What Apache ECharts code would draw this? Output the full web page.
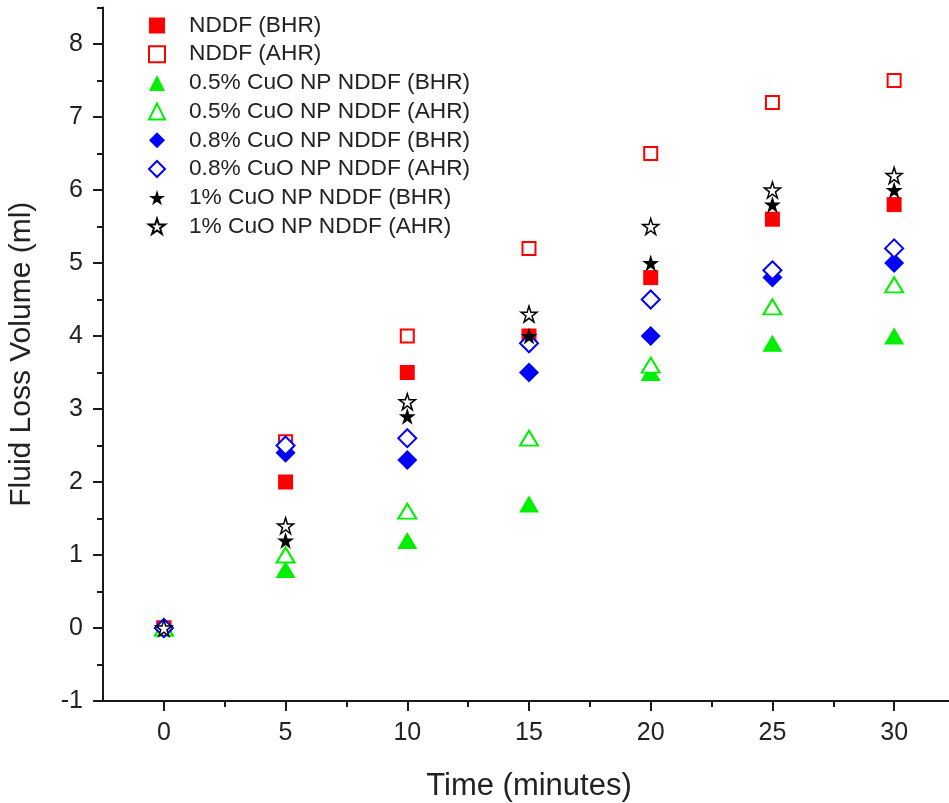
<!DOCTYPE html>
<html>
<head>
<meta charset="utf-8">
<script src="https://cdn.jsdelivr.net/npm/echarts@6/dist/echarts.min.js"></script>
<style>html,body{margin:0;padding:0;background:#fff}#c{width:949px;height:803px}</style>
</head>
<body>
<div id="c"></div>
<script>
const times = [0, 5, 10, 15, 20, 25, 30];
const nddfBHR   = [0, 2.0, 3.5, 4.0, 4.8, 5.6, 5.8];
const nddfAHR   = [0, 2.55, 4.0, 5.2, 6.5, 7.2, 7.5];
const cuo05BHR  = [0, 0.8, 1.2, 1.7, 3.5, 3.9, 4.0];
const cuo05AHR  = [0, 1.0, 1.6, 2.6, 3.6, 4.4, 4.7];
const cuo08BHR  = [0, 2.4, 2.3, 3.5, 4.0, 4.8, 5.0];
const cuo08AHR  = [0, 2.5, 2.6, 3.9, 4.5, 4.9, 5.2];
const cuo1BHR   = [0, 1.2, 2.9, 4.0, 5.0, 5.8, 6.0];
const cuo1AHR   = [0, 1.4, 3.1, 4.3, 5.5, 6.0, 6.2];
const seriesNames = [
  'NDDF (BHR)', 'NDDF (AHR)',
  '0.5% CuO NP NDDF (BHR)', '0.5% CuO NP NDDF (AHR)',
  '0.8% CuO NP NDDF (BHR)', '0.8% CuO NP NDDF (AHR)',
  '1% CuO NP NDDF (BHR)', '1% CuO NP NDDF (AHR)'
];
const xMajorTicks = [0, 5, 10, 15, 20, 25, 30];
const xMinorTicks = [2.5, 7.5, 12.5, 17.5, 22.5, 27.5, 32.5];
const yMajorTicks = [-1, 0, 1, 2, 3, 4, 5, 6, 7, 8];
const yMinorTicks = [-0.5, 0.5, 1.5, 2.5, 3.5, 4.5, 5.5, 6.5, 7.5, 8.5];

const STAR = 'path://M50 0 L61.2 34.5 L97.6 34.5 L68.2 55.9 L79.4 90.5 L50 69.1 L20.6 90.5 L31.8 55.9 L2.4 34.5 L38.8 34.5 Z';
const styles = [
  {symbol: 'rect', size: 15, fill: '#ff0000', stroke: '#ff0000', bw: 0},
  {symbol: 'rect', size: 13, fill: '#ffffff', stroke: '#ff0000', bw: 2},
  {symbol: 'triangle', size: [20, 17], fill: '#00ee00', stroke: '#00ee00', bw: 0},
  {symbol: 'triangle', size: [18, 15], fill: '#ffffff', stroke: '#00ee00', bw: 2},
  {symbol: 'diamond', size: [20, 20], fill: '#0000ff', stroke: '#0000ff', bw: 0},
  {symbol: 'diamond', size: [18, 18], fill: '#ffffff', stroke: '#0000ff', bw: 2},
  {symbol: STAR, size: 17, fill: '#000000', stroke: '#000000', bw: 0},
  {symbol: STAR, size: 16, fill: '#ffffff', stroke: '#000000', bw: 1.5}
];
const values = [nddfBHR, nddfAHR, cuo05BHR, cuo05AHR, cuo08BHR, cuo08AHR, cuo1BHR, cuo1AHR];

const series = values.map((vals, i) => ({
  name: seriesNames[i],
  type: 'scatter',
  xAxisIndex: 0, yAxisIndex: 0,
  symbol: styles[i].symbol,
  symbolSize: styles[i].size,
  itemStyle: {color: styles[i].fill, borderColor: styles[i].stroke, borderWidth: styles[i].bw, opacity: 1},
  data: times.map((t, j) => [t, vals[j]]),
  z: 2 + i
}));

const axisColor = '#1a1a1a';
const font = 'Liberation Sans, Arial, sans-serif';
const chart = echarts.init(document.getElementById('c'));
chart.setOption({
  animation: false,
  backgroundColor: '#fff',
  grid: {left: 103, top: 7.5, width: 852, height: 693.5, containLabel: false, outerBoundsMode: 'none'},
  legend: {
    orient: 'vertical', left: 143, top: 9,
    itemWidth: 16, itemHeight: 16, itemGap: 5.7,
    data: seriesNames.map((n, i) => ({name: n, icon: styles[i].symbol})),
    textStyle: {fontFamily: font, fontSize: 22.7, lineHeight: 23, color: '#222', padding: [0, 0, 0, 19]}
  },
  xAxis: [{
    type: 'value', min: -2.5, max: 32.5,
    name: 'Time (minutes)', nameLocation: 'middle', nameGap: 70,
    nameTextStyle: {fontFamily: font, fontSize: 31, color: '#222'},
    axisLine: {show: true, onZero: false, lineStyle: {color: axisColor, width: 2}},
    axisTick: {show: true, inside: false, length: 10, customValues: xMajorTicks, lineStyle: {color: axisColor, width: 2}},
    axisLabel: {show: true, customValues: xMajorTicks, margin: 20, fontFamily: font, fontSize: 25, color: '#222'},
    splitLine: {show: false}
  }, {
    type: 'value', min: -2.5, max: 32.5, position: 'bottom',
    axisLine: {show: false, onZero: false},
    axisTick: {show: true, length: 6, customValues: xMinorTicks, lineStyle: {color: axisColor, width: 2}},
    axisLabel: {show: false},
    splitLine: {show: false}
  }],
  yAxis: [{
    type: 'value', min: -1, max: 8.5,
    name: 'Fluid Loss Volume (ml)', nameLocation: 'middle', nameGap: 66, nameRotate: 90,
    nameTextStyle: {fontFamily: font, fontSize: 30, color: '#222'},
    axisLine: {show: true, onZero: false, lineStyle: {color: axisColor, width: 2}},
    axisTick: {show: true, length: 10, customValues: yMajorTicks, lineStyle: {color: axisColor, width: 2}},
    axisLabel: {show: true, customValues: yMajorTicks, margin: 20, fontFamily: font, fontSize: 25, color: '#222'},
    splitLine: {show: false}
  }, {
    type: 'value', min: -1, max: 8.5, position: 'left', offset: 0,
    axisLine: {show: false, onZero: false},
    axisTick: {show: true, length: 6, customValues: yMinorTicks, lineStyle: {color: axisColor, width: 2}},
    axisLabel: {show: false},
    splitLine: {show: false}
  }],
  series: series
});
</script>
</body>
</html>
